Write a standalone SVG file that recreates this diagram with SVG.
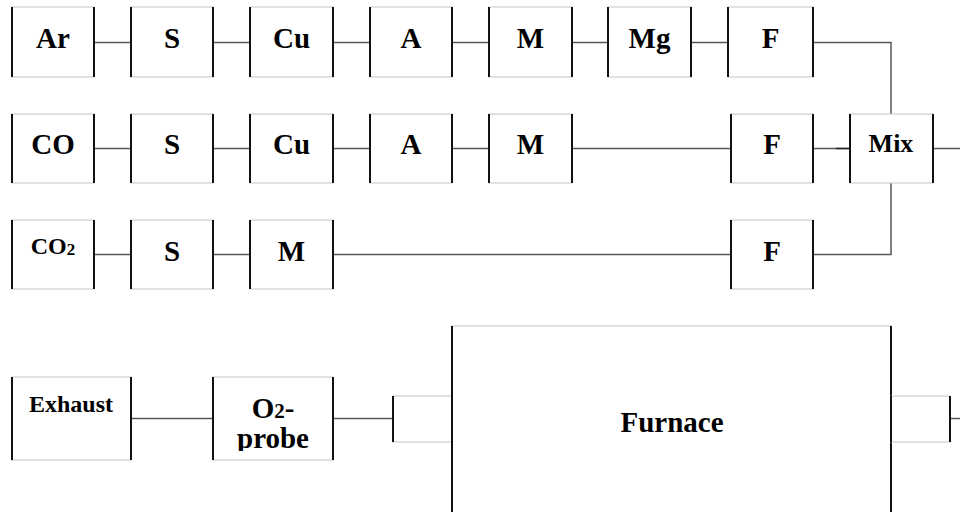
<svg xmlns="http://www.w3.org/2000/svg" width="960" height="512" viewBox="0 0 960 512">
<style>
.box{fill:#fff;stroke:#c4c4c4;stroke-width:1}
.side{fill:none;stroke:#111;stroke-width:2}
.lbl{font-family:"Liberation Serif","Times New Roman",serif;font-weight:bold;font-size:29px;fill:#000;text-anchor:middle}
.con{fill:none;stroke:#555;stroke-width:1.5}
</style>
<defs>
<clipPath id="clipO2"><rect x="213" y="377" width="120" height="74"/></clipPath>
</defs>
<rect width="960" height="512" fill="#fff"/>
<g id="connectors">
<path class="con" d="M94 42.5H131M213 42.5H250M333 42.5H370M452 42.5H489M572 42.5H608M691 42.5H728M813 42.5H891V114"/>
<path class="con" d="M94 148.5H131M213 148.5H250M333 148.5H370M452 148.5H489M572 148.5H731M813 148.5H850M933 148.5H960"/>
<path d="M836 148.5H850" fill="none" stroke="#222" stroke-width="1.5"/>
<path class="con" d="M94 254.5H131M213 254.5H250M333 254.5H731M813 254.5H891V183"/>
<path class="con" d="M131 418.5H213M333 418.5H393M950 418.5H960"/>
</g>
<g id="ar"><rect class="box" x="12" y="7" width="82" height="70"/><path class="side" d="M12 7V77M94 7V77"/><text class="lbl" x="53" y="47.5">Ar</text></g>
<g id="s1"><rect class="box" x="131" y="7" width="82" height="70"/><path class="side" d="M131 7V77M213 7V77"/><text class="lbl" x="172" y="47.5">S</text></g>
<g id="cu1"><rect class="box" x="250" y="7" width="83" height="70"/><path class="side" d="M250 7V77M333 7V77"/><text class="lbl" x="291.5" y="47.5">Cu</text></g>
<g id="a1"><rect class="box" x="370" y="7" width="82" height="70"/><path class="side" d="M370 7V77M452 7V77"/><text class="lbl" x="411" y="47.5">A</text></g>
<g id="m1"><rect class="box" x="489" y="7" width="83" height="70"/><path class="side" d="M489 7V77M572 7V77"/><text class="lbl" x="530.5" y="47.5">M</text></g>
<g id="mg"><rect class="box" x="608" y="7" width="83" height="70"/><path class="side" d="M608 7V77M691 7V77"/><text class="lbl" x="649.5" y="47.5">Mg</text></g>
<g id="f1"><rect class="box" x="728" y="7" width="85" height="70"/><path class="side" d="M728 7V77M813 7V77"/><text class="lbl" x="770.5" y="47.5">F</text></g>

<g id="co"><rect class="box" x="12" y="114" width="82" height="69"/><path class="side" d="M12 114V183M94 114V183"/><text class="lbl" x="53" y="153.5">CO</text></g>
<g id="s2"><rect class="box" x="131" y="114" width="82" height="69"/><path class="side" d="M131 114V183M213 114V183"/><text class="lbl" x="172" y="153.5">S</text></g>
<g id="cu2"><rect class="box" x="250" y="114" width="83" height="69"/><path class="side" d="M250 114V183M333 114V183"/><text class="lbl" x="291.5" y="153.5">Cu</text></g>
<g id="a2"><rect class="box" x="370" y="114" width="82" height="69"/><path class="side" d="M370 114V183M452 114V183"/><text class="lbl" x="411" y="153.5">A</text></g>
<g id="m2"><rect class="box" x="489" y="114" width="83" height="69"/><path class="side" d="M489 114V183M572 114V183"/><text class="lbl" x="530.5" y="153.5">M</text></g>
<g id="f2"><rect class="box" x="731" y="114" width="82" height="69"/><path class="side" d="M731 114V183M813 114V183"/><text class="lbl" x="772" y="153.5">F</text></g>
<g id="mix"><rect class="box" x="850" y="114" width="83" height="69"/><path class="side" d="M850 114V183M933 114V183"/><text class="lbl" x="891" y="152" style="font-size:26px">Mix</text></g>

<g id="co2"><rect class="box" x="12" y="220" width="82" height="69"/><path class="side" d="M12 220V289M94 220V289"/><text class="lbl" x="53" y="254" style="font-size:24px">CO<tspan style="font-size:17px" dy="1">2</tspan></text></g>
<g id="s3"><rect class="box" x="131" y="220" width="82" height="69"/><path class="side" d="M131 220V289M213 220V289"/><text class="lbl" x="172" y="261">S</text></g>
<g id="m3"><rect class="box" x="250" y="220" width="83" height="69"/><path class="side" d="M250 220V289M333 220V289"/><text class="lbl" x="291.5" y="261">M</text></g>
<g id="f3"><rect class="box" x="731" y="220" width="82" height="69"/><path class="side" d="M731 220V289M813 220V289"/><text class="lbl" x="772" y="261">F</text></g>

<g id="exhaust"><rect class="box" x="12" y="377" width="119" height="83"/><path class="side" d="M12 377V460M131 377V460"/><text class="lbl" x="71" y="411.5" style="font-size:24px">Exhaust</text></g>
<g id="o2probe"><rect class="box" x="213" y="377" width="120" height="83"/><path class="side" d="M213 377V460M333 377V460"/><g clip-path="url(#clipO2)"><text class="lbl" x="273" y="417.5">O<tspan style="font-size:21px">2</tspan>-</text><text class="lbl" x="273" y="448">probe</text></g></g>
<g id="port-left"><rect class="box" x="393" y="396" width="59" height="46"/><path class="side" d="M393 396V442"/></g>
<g id="furnace"><rect class="box" x="452" y="326" width="439" height="200"/><path class="side" d="M452 326V512M891 326V512"/><text class="lbl" x="672" y="432">Furnace</text></g>
<g id="port-right"><rect class="box" x="891" y="396" width="59" height="46"/><path class="side" d="M891 396V442M950 396V442"/></g>
</svg>
